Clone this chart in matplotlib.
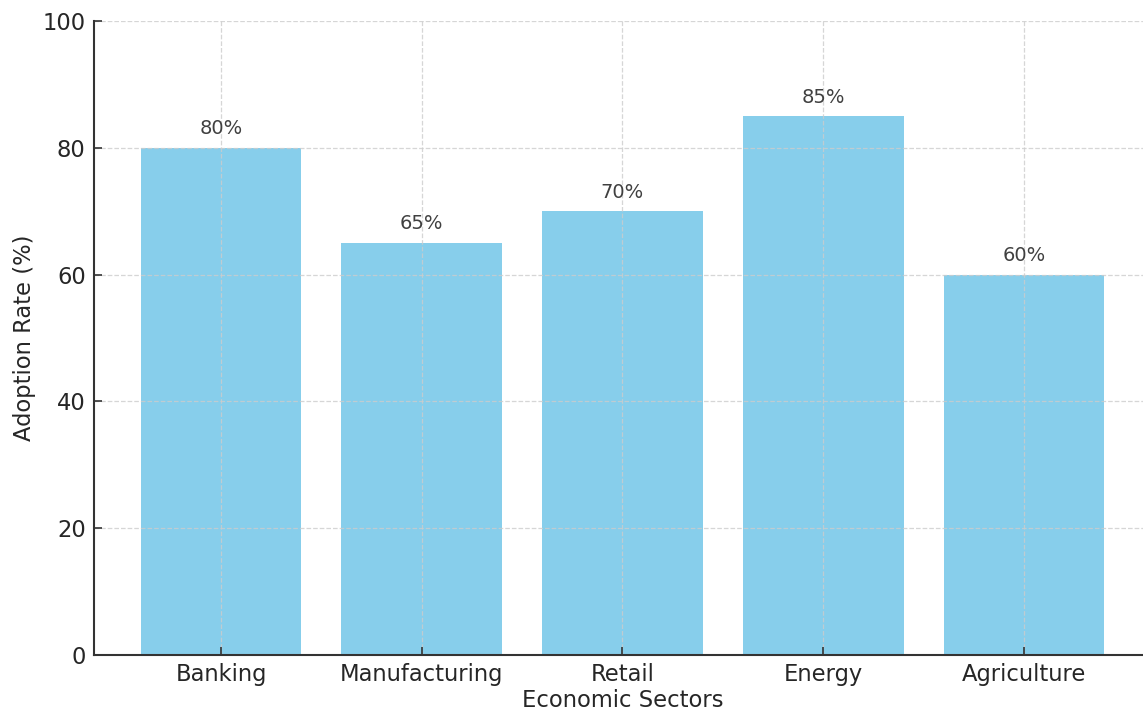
import matplotlib
matplotlib.use("Agg")
import matplotlib.pyplot as plt

sectors = ["Banking", "Manufacturing", "Retail", "Energy", "Agriculture"]
adoption = [80, 65, 70, 85, 60]
yticks = [0, 20, 40, 60, 80, 100]

fig = plt.figure(figsize=(11.43, 7.11), dpi=100)
ax = fig.add_axes([94/1143, 1 - 655/711, (1152 - 94)/1143, (655 - 21)/711])

x = list(range(len(sectors)))
bars = ax.bar(x, adoption, width=0.8, color="skyblue")
for xi, v in zip(x, adoption):
    ax.text(xi, v + 1.5, f"{v}%", ha="center", va="bottom", fontsize=14, color="#404040")

ax.set_xticks(x)
ax.set_xticklabels(sectors, fontsize=16.3, color="#262626")
ax.set_yticks(yticks)
ax.set_yticklabels([str(t) for t in yticks], fontsize=16.3, color="#262626")
ax.set_ylim(0, 100)
ax.set_xlim(-0.633, 4.638)
ax.set_xlabel("Economic Sectors", fontsize=16.3, color="#262626", labelpad=2)
ax.set_ylabel("Adoption Rate (%)", fontsize=16.3, color="#262626", labelpad=5)
ax.grid(True, linestyle="--", color="#cccccc", linewidth=0.9, alpha=0.8)
ax.spines["top"].set_visible(False)
ax.spines["right"].set_visible(False)
for s in ("left", "bottom"):
    ax.spines[s].set_linewidth(1.5)
    ax.spines[s].set_color("#333333")
ax.tick_params(axis="both", direction="in", length=6, width=1.2, color="#333333", pad=6)

fig.savefig("out.png", dpi=100)
